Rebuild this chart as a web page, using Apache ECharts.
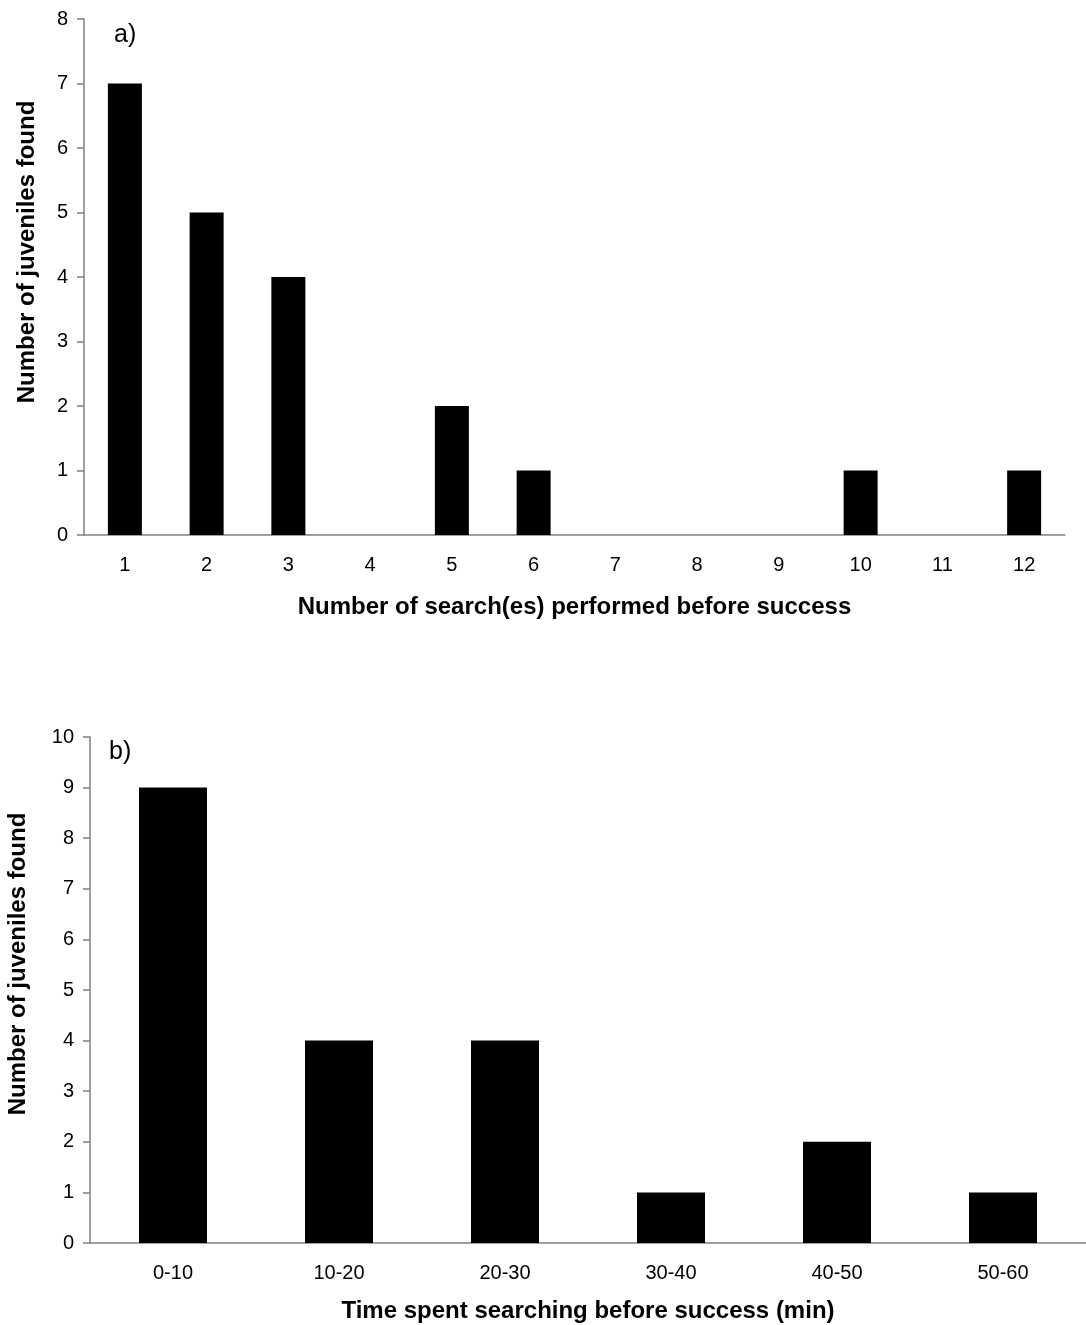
<!DOCTYPE html>
<html>
<head>
<meta charset="utf-8">
<script src="https://cdn.jsdelivr.net/npm/echarts@6/dist/echarts.min.js"></script>
<style>
  html, body { margin: 0; padding: 0; background: #fff; }
  #main { width: 1086px; height: 1325px; }
</style>
</head>
<body>
<div id="main"></div>
<script>
var chartDom = document.getElementById('main');
var myChart = echarts.init(chartDom);
var option;

// panel a
let searchCats = ['1', '2', '3', '4', '5', '6', '7', '8', '9', '10', '11', '12'];
let searchCounts = [7, 5, 4, 0, 2, 1, 0, 0, 0, 1, 0, 1];
let searchTicks = [0, 1, 2, 3, 4, 5, 6, 7, 8];
// panel b
let timeCats = ['0-10', '10-20', '20-30', '30-40', '40-50', '50-60'];
let timeCounts = [9, 4, 4, 1, 2, 1];
let timeTicks = [0, 1, 2, 3, 4, 5, 6, 7, 8, 9, 10];

const font = 'Liberation Sans, Arial, sans-serif';
const gray = '#808080';
const yName = 'Number of juveniles found';

function catAxis(idx, cats, nameText, nameGap) {
  return {
    type: 'category',
    gridIndex: idx,
    data: cats,
    name: nameText,
    nameLocation: 'middle',
    nameGap: nameGap,
    nameTextStyle: { fontFamily: font, fontSize: 24, fontWeight: 'bold', color: '#000' },
    axisLine: { lineStyle: { color: gray, width: 1.5 } },
    axisTick: { length: 6, lineStyle: { color: gray, width: 1.5 } },
    axisLabel: { fontFamily: font, fontSize: 20, color: '#000', margin: 20 },
    splitLine: { show: false }
  };
}

function valAxis(idx, ticks) {
  return {
    type: 'value',
    gridIndex: idx,
    min: ticks[0],
    max: ticks[ticks.length - 1],
    interval: 1,
    axisLine: { show: true, lineStyle: { color: gray, width: 1.5 } },
    axisTick: { show: true, length: 7, lineStyle: { color: gray, width: 1.5 } },
    axisLabel: { fontFamily: font, fontSize: 20, color: '#000', margin: 16 },
    splitLine: { show: false }
  };
}

// y axis titles sit a bit above the middle of each plot, so they are placed by hand
function sideTitle(x, y) {
  return {
    type: 'text',
    x: x,
    y: y,
    rotation: Math.PI / 2,
    style: {
      text: yName,
      font: 'bold 24px ' + font,
      fill: '#000',
      textAlign: 'center',
      textVerticalAlign: 'middle'
    }
  };
}

option = {
  backgroundColor: '#fff',
  animation: false,
  grid: [
    { left: 84, top: 19, width: 981, height: 516 },
    { left: 90, top: 737, width: 1002, height: 506 }
  ],
  xAxis: [
    catAxis(0, searchCats, 'Number of search(es) performed before success', 60),
    catAxis(1, timeCats, 'Time spent searching before success (min)', 56)
  ],
  yAxis: [
    valAxis(0, searchTicks),
    valAxis(1, timeTicks)
  ],
  graphic: [
    sideTitle(27, 252),
    sideTitle(18, 964),
    { type: 'text', left: 114, top: 23, style: { text: 'a)', font: '25px ' + font, fill: '#000' } },
    { type: 'text', left: 109, top: 740, style: { text: 'b)', font: '25px ' + font, fill: '#000' } }
  ],
  series: [
    {
      type: 'bar',
      xAxisIndex: 0,
      yAxisIndex: 0,
      barWidth: 34,
      itemStyle: { color: '#000' },
      data: searchCounts
    },
    {
      type: 'bar',
      xAxisIndex: 1,
      yAxisIndex: 1,
      barWidth: 68,
      itemStyle: { color: '#000' },
      data: timeCounts
    }
  ]
};

option && myChart.setOption(option);
</script>
</body>
</html>
